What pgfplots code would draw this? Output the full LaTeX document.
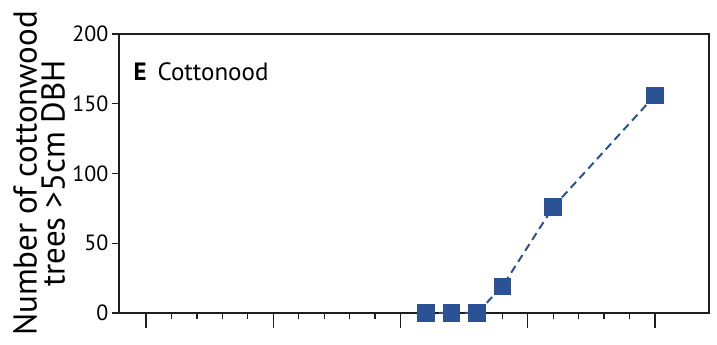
\documentclass[border=0pt]{standalone}
\usepackage{fontspec}
\setmainfont{PT Sans}
\usepackage{pgfplots}
\pgfplotsset{compat=1.18}
\definecolor{mblue}{RGB}{44,82,150}
\definecolor{axgray}{RGB}{30,30,30}
\begin{document}
\begin{tikzpicture}
\begin{axis}[
  name=ax,
  scale only axis,
  width=590pt, height=279pt,
  xmin=-1.06, xmax=22.12,
  ymin=0, ymax=200,
  axis line style={axgray, line width=1.3pt},
  xtick={0,5,10,15,20},
  minor xtick={1,2,3,4,6,7,8,9,11,12,13,14,16,17,18,19},
  xticklabels={},
  ytick=\empty,
  extra y ticks={0,50,100,150,200},
  extra y tick style={major tick length=7pt,
    yticklabel style={font=\fontsize{22}{24}\selectfont, /pgf/number format/assume math mode=true}},
  tick style={axgray, line width=1.3pt},
  xtick pos=bottom, ytick pos=left,
  tick align=outside,
  major tick length=15pt,
  minor tick length=6pt,
  /pgf/number format/assume math mode=true,
  ticklabel style={font=\fontsize{22}{24}\selectfont},
  clip=false,
  ylabel={Number of cottonwood\\trees >5cm DBH},
  ylabel style={at={(rel axis cs:0,0.5)}, anchor=center, yshift=80pt, align=center,
    font=\fontsize{33}{28}\selectfont},
]
\addplot[color=mblue, line width=2pt, dash pattern=on 8pt off 5pt,
  mark=square*, mark size=7.8pt, mark options={solid, fill=mblue, draw=mblue}]
  coordinates {(11,0) (12,0) (13,0) (14,19) (16,76) (20,156)};
\node[anchor=base west, font=\fontsize{25}{27}\selectfont] at (rel axis cs:0.019,0.835) {\textbf{E}\, Cottonood};
\end{axis}
\pgfresetboundingbox
\path[use as bounding box] ([xshift=-119pt,yshift=-32pt]ax.south west) rectangle ([xshift=8pt,yshift=34pt]ax.north east);
\end{tikzpicture}
\end{document}
